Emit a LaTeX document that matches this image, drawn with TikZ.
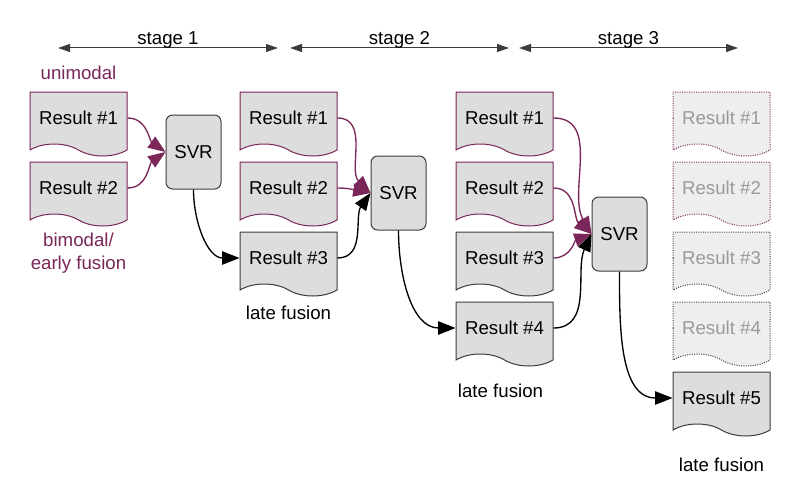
\documentclass[tikz,border=0pt]{standalone}
\usepackage{fontspec}
\setmainfont{Liberation Sans}
\usepackage{tikz}
\usetikzlibrary{shapes.symbols,arrows.meta}
\definecolor{plum}{RGB}{122,38,88}
\definecolor{boxgray}{RGB}{221,221,221}
\definecolor{fadegray}{RGB}{238,238,238}
\definecolor{edgegray}{RGB}{60,60,60}
\tikzstyle{docbase} = [tape,tape bend top=none,tape bend bottom=out and in,tape bend height=9pt,minimum width=72.75pt,minimum height=48pt,fill=boxgray,text=black,inner sep=0pt,line width=0.75pt]
\tikzstyle{docplum} = [docbase,draw=plum]
\tikzstyle{docgray} = [docbase,draw=edgegray]
\tikzstyle{docplumfade} = [docbase,draw=plum,densely dotted,fill=fadegray,text=black!40]
\tikzstyle{docgrayfade} = [docbase,draw=edgegray,densely dotted,fill=fadegray,text=black!40]
\tikzstyle{svrbox} = [rectangle,rounded corners=5pt,minimum width=41.25pt,minimum height=55.5pt,draw=edgegray,fill=boxgray,line width=0.75pt]
\tikzstyle{arrowplum} = [plum,line width=1pt,-{Triangle[length=13pt,width=10pt]}]
\tikzstyle{arrowblack} = [black,line width=1pt,-{Triangle[length=13pt,width=10pt]}]
\tikzstyle{stagearrow} = [edgegray,line width=0.75pt,{Triangle[length=9pt,width=6pt]}-{Triangle[length=9pt,width=6pt]}]

\begin{document}
\begin{tikzpicture}[x=0.75pt,y=-0.75pt,node distance=52.5pt]
\tikzstyle{every node}=[font=\fontsize{14}{17}\selectfont]
\useasboundingbox (0,0) rectangle (799,485);

% stages
\coordinate (S1L) at (58,48);
\coordinate (S1R) at (278,48);
\coordinate (S2L) at (290,48);
\coordinate (S2R) at (509,48);
\coordinate (S3L) at (519,48);
\coordinate (S3R) at (738,48);
\draw[stagearrow] (S1L) -- node[above=-1pt,inner sep=0pt,text=black] (stage1) {stage 1} (S1R);
\draw[stagearrow] (S2L) -- node[above=-1pt,inner sep=0pt,text=black] (stage2) {stage 2} (S2R);
\draw[stagearrow] (S3L) -- node[above=-1pt,inner sep=0pt,text=black] (stage3) {stage 3} (S3R);

% stage 1
\node (C1R1) [docplum] at (78.5,118) {Result \#1};
\node (C1R2) [docplum,below of=C1R1] {Result \#2};
\node (SVR1) [svrbox] at (193.5,152) {SVR};
\node (uni)  [text=plum,above of=C1R1,yshift=-18.75pt] {unimodal};
\node (bim)  [text=plum,align=center,below of=C1R2,yshift=3.75pt] {bimodal/\\early fusion};

% stage 2
\node (C2R1) [docplum] at (288.5,118) {Result \#1};
\node (C2R2) [docplum,below of=C2R1] {Result \#2};
\node (C2R3) [docgray,below of=C2R2] {Result \#3};
\node (SVR2) [svrbox] at (398.5,193) {SVR};
\node (late2) [below of=C2R3,yshift=11.25pt] {late fusion};

% stage 3
\node (C3R1) [docplum] at (504.5,118) {Result \#1};
\node (C3R2) [docplum,below of=C3R1] {Result \#2};
\node (C3R3) [docgray,below of=C3R2] {Result \#3};
\node (C3R4) [docgray,below of=C3R3] {Result \#4};
\node (SVR3) [svrbox] at (619.5,234) {SVR};
\node (late3) [below of=C3R4,xshift=-3pt,yshift=5.25pt] {late fusion};

% output
\node (C4R1) [docplumfade] at (721.5,118) {Result \#1};
\node (C4R2) [docplumfade,below of=C4R1] {Result \#2};
\node (C4R3) [docgrayfade,below of=C4R2] {Result \#3};
\node (C4R4) [docgrayfade,below of=C4R3] {Result \#4};
\node (C4R5) [docgray,below of=C4R4] {Result \#5};
\node (late4) [below of=C4R5,yshift=2.25pt] {late fusion};

\draw[arrowplum] (C1R1.east) to[out=0,in=145] (SVR1.west);
\draw[arrowplum] (C1R2.east) to[out=0,in=-145] (SVR1.west);
\draw[arrowblack] (SVR1.south) to[out=-90,in=180] (C2R3.west);

\draw[arrowplum] (C2R1.east) to[out=0,in=135] (SVR2.west);
\draw[arrowplum] (C2R2.east) to[out=0,in=170] (SVR2.west);
\draw[arrowblack] (C2R3.east) to[out=0,in=-125] (SVR2.west);
\draw[arrowblack] (SVR2.south) to[out=-90,in=180] (C3R4.west);

\draw[arrowplum] (C3R1.east) to[out=0,in=120] (SVR3.west);
\draw[arrowplum] (C3R2.east) to[out=0,in=140] (SVR3.west);
\draw[arrowplum] (C3R3.east) to[out=0,in=-160] (SVR3.west);
\draw[arrowblack] (C3R4.east) to[out=0,in=-115] (SVR3.west);
\draw[arrowblack] (SVR3.south) to[out=-90,in=180] (C4R5.west);

\end{tikzpicture}
\end{document}
